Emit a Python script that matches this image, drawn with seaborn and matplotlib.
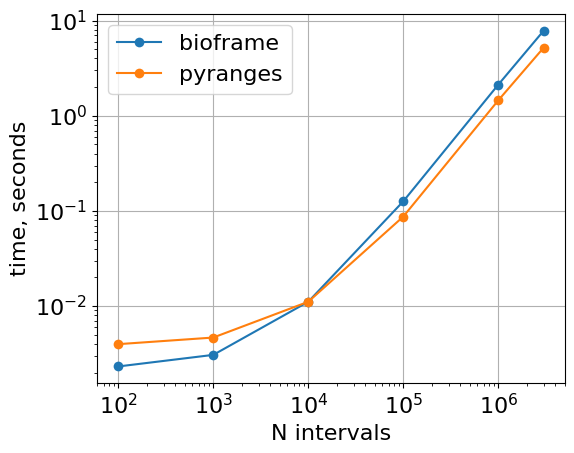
import matplotlib
matplotlib.use("Agg")
import matplotlib.pyplot as plt
import seaborn as sns
import pandas as pd

n_intervals = [1e2, 1e3, 1e4, 1e5, 1e6, 3e6]
bioframe = [0.00232, 0.00307, 0.0111, 0.126, 2.12, 7.81]
pyranges = [0.00398, 0.00467, 0.0111, 0.0871, 1.45, 5.18]

df = pd.DataFrame({
    "N": n_intervals * 2,
    "time": bioframe + pyranges,
    "tool": ["bioframe"] * len(n_intervals) + ["pyranges"] * len(n_intervals),
})

plt.rcParams["font.size"] = 16
fig, ax = plt.subplots(figsize=(5.74, 4.53), dpi=100)
fig.subplots_adjust(left=0.169, right=0.984, top=0.969, bottom=0.154)
sns.lineplot(data=df, x="N", y="time", hue="tool", marker="o", markersize=7,
             markeredgewidth=0, palette=["#1f77b4", "#ff7f0e"], ax=ax,
             linewidth=1.5)
ax.set_xscale("log")
ax.set_yscale("log")
ax.grid(True, which="major", color="#b0b0b0", linewidth=0.8)
ax.set_axisbelow(True)
ax.set_xlabel("N intervals")
ax.set_ylabel("time, seconds")
ax.legend(loc="upper left")
fig.savefig("out.png", dpi=100)
